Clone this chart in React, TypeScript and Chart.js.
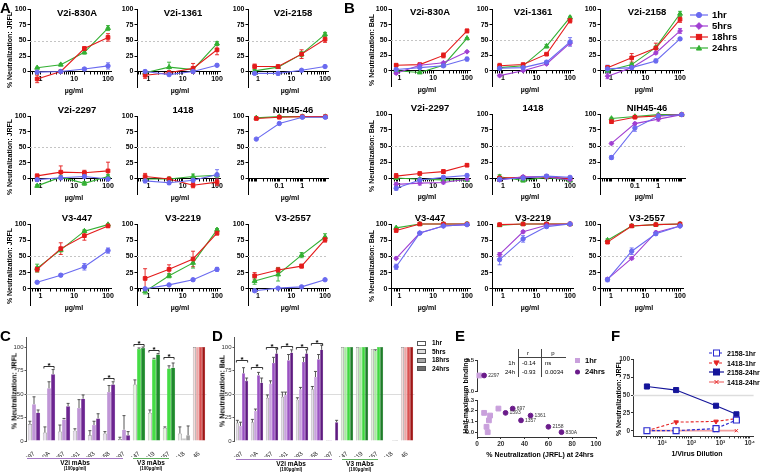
import React, { useEffect, useRef } from 'react';
import { Chart, registerables } from 'chart.js';

const FONT = "'Liberation Sans', Arial, Helvetica, sans-serif";

// ---------------- data ----------------
const DOSE = [0.8, 4, 20, 100];
const A_NIH_DOSE = [0.01, 0.1, 1, 10];
const B_NIH_DOSE = [0.01, 0.1, 1, 10];

// Panel A (JRFL): 1hr, 18hrs, 24hrs
const A_830A = { h1: [-1, 0, 4, 9], h18: [-12, 0, 37, 55], h24: [6, 11, 31, 70] };
const A_830A_E = { h1: [1, 1, 2, 5], h18: [6, 1, 3, 6], h24: [1, 2, 3, 4] };
const A_1361 = { h1: [0, -5, 0, 10], h18: [-6, -2, 5, 35], h24: [-2, 7, 3, 45] };
const A_1361_E = { h1: [2, 2, 2, 2], h18: [5, 3, 8, 8], h24: [3, 8, 2, 3] };
const A_2158 = { h1: [-3, -3, 2, 8], h18: [8, 8, 28, 52], h24: [1, 7, 28, 60] };
const A_2158_E = { h1: [2, 3, 1, 1], h18: [4, 2, 7, 5], h24: [2, 2, 4, 3] };
const A_2297 = { h1: [-2, 1, 3, -1], h18: [4, 10, 9, 12], h24: [-12, 2, -8, 3] };
const A_2297_E = { h1: [2, 3, 2, 2], h18: [3, 10, 4, 14], h24: [2, 2, 3, 3] };
const A_1418 = { h1: [-4, -7, -3, 6], h18: [3, -1, -11, -6], h24: [-1, -1, 3, 5] };
const A_1418_E = { h1: [3, 3, 3, 8], h18: [5, 3, 4, 5], h24: [2, 2, 4, 3] };
const A_NIH = { h1: [63, 88, 98, 98], h18: [96, 98, 99, 99], h24: [97, 99, 99, 99] };
const A_447 = { h1: [10, 21, 34, 59], h18: [30, 62, 82, 97], h24: [32, 60, 89, 99] };
const A_447_E = { h1: [1, 2, 5, 4], h18: [4, 9, 7, 2], h24: [6, 3, 2, 1] };
const A_2219 = { h1: [0, 6, 14, 30], h18: [16, 30, 46, 86], h24: [-4, 20, 40, 91] };
const A_2219_E = { h1: [2, 1, 2, 3], h18: [15, 7, 12, 3], h24: [4, 3, 8, 2] };
const A_2557 = { h1: [-3, 1, 3, 14], h18: [20, 29, 35, 76], h24: [12, 22, 52, 80] };
const A_2557_E = { h1: [2, 1, 1, 1], h18: [5, 4, 3, 4], h24: [5, 10, 4, 5] };

// Panel B (BaL): 1hr, 5hrs, 18hrs, 24hrs
const B_830A = { h1: [2, 5, 8, 19], h5: [-4, 9, 13, 31], h18: [9, 10, 25, 65], h24: [0, -3, 9, 53] };
const B_830A_E = { h1: [2, 1, 2, 3], h5: [2, 1, 1, 1], h18: [1, 1, 4, 3], h24: [1, 1, 1, 1] };
const B_1361 = { h1: [4, 5, 14, 47], h5: [-8, 0, 11, 45], h18: [8, 10, 27, 82], h24: [5, 8, 40, 87] };
const B_1361_E = { h1: [2, 1, 2, 7], h5: [2, 1, 1, 3], h18: [4, 1, 1, 4], h24: [2, 1, 3, 2] };
const B_2158 = { h1: [3, 5, 16, 52], h5: [-9, 5, 29, 65], h18: [5, 21, 37, 84], h24: [0, 10, 38, 93] };
const B_2158_E = { h1: [6, 2, 3, 2], h5: [4, 2, 2, 4], h18: [3, 7, 8, 5], h24: [1, 2, 2, 4] };
const B_2297 = { h1: [-16, -3, 1, 4], h5: [-10, -8, -7, -2], h18: [3, 7, 10, 20], h24: [0, -2, -3, -3] };
const B_2297_E = { h1: [3, 2, 2, 2], h5: [3, 3, 2, 2], h18: [4, 2, 3, 2], h24: [2, 2, 2, 2] };
const B_1418 = { h1: [-2, 0, 3, 1], h5: [-3, 2, 2, -3], h18: [0, 1, 2, -1], h24: [2, -4, 1, -4] };
const B_1418_E = { h1: [2, 2, 2, 2], h5: [2, 2, 2, 2], h18: [2, 2, 2, 2], h24: [3, 2, 2, 2] };
const B_NIH = { h1: [32, 78, 97, 99], h5: [54, 85, 92, 99], h18: [88, 95, 97, 99], h24: [93, 96, 99, 99] };
const B_NIH_E = { h1: [3, 5, 2, 1], h5: [2, 2, 3, 1], h18: [2, 1, 1, 1], h24: [1, 1, 1, 1] };
const B_447 = { h1: [34, 86, 97, 99], h5: [47, 86, 97, 99], h18: [90, 100, 100, 100], h24: [94, 100, 100, 100] };
const B_447_E = { h1: [4, 2, 1, 1], h5: [2, 1, 1, 1], h18: [2, 1, 1, 1], h24: [1, 1, 1, 1] };
const B_2219 = { h1: [45, 77, 96, 100], h5: [53, 88, 98, 100], h18: [99, 100, 100, 100], h24: [98, 100, 100, 100] };
const B_2219_E = { h1: [8, 5, 2, 1], h5: [3, 2, 1, 1], h18: [1, 1, 1, 1], h24: [1, 1, 1, 1] };
const B_2557 = { h1: [14, 58, 85, 97], h5: [15, 47, 87, 97], h18: [72, 97, 99, 100], h24: [75, 97, 99, 100] };
const B_2557_E = { h1: [3, 5, 2, 1], h5: [2, 2, 2, 1], h18: [2, 1, 1, 1], h24: [2, 1, 1, 1] };

// Panel C (JRFL, bars)
const C_LABELS: any[] = ['697', '830A', '1357', '1361', '1393', '2158', '2297', '447', '2219', '2557', ['1418', '(100µg/ml)'], ['NIH45-46', '(5µg/ml)']];
const C_GROUPS = ['v2', 'v2', 'v2', 'v2', 'v2', 'v2', 'v2', 'v3', 'v3', 'v3', 'x', 'nih'];
const C_H1 = [18, 9, 10, 11, 6, 8, 2, 60, 30, 14, 8, 100];
const C_H5 = [null, null, null, null, null, null, null, null, null, null, null, 100];
const C_H18 = [39, 56, 23, 35, 17, 52, 12, 98, 87, 77, 3, 100];
const C_H24 = [30, 71, 37, 45, 24, 60, 6, 99, 92, 78, 6, 100];
const C_H1_E = [3, 6, 7, 2, 5, 2, 2, 5, 3, 1, 7, 0];
const C_H18_E = [8, 7, 1, 9, 4, 7, 15, 1, 1, 3, 0, 0];
const C_H24_E = [3, 5, 3, 4, 5, 3, 4, 1, 1, 5, 10, 0];
const C_SIG = [[1, 0, 3, 80], [5, 0, 3, 67], [7, 0, 3, 103], [8, 0, 3, 97], [9, 0, 3, 89]];

// Panel D (BaL, bars)
const D_H1 = [19, 20, 46, 47, 44, 55, 1, 100, 100, 98, 0, 100];
const D_H5 = [16, 32, 61, 49, 55, 68, 1, 100, 100, 96, 0, 100];
const D_H18 = [72, 70, 83, 86, 84, 87, 0, 100, 100, 100, 1, 100];
const D_H24 = [64, 62, 93, 94, 93, 97, 20, 100, 100, 100, 1, 100];
const D_H1_E = [3, 3, 3, 5, 2, 3, 0, 0, 0, 0, 0, 0];
const D_H5_E = [4, 2, 3, 3, 2, 6, 0, 0, 0, 1, 0, 0];
const D_H18_E = [6, 3, 6, 6, 5, 5, 0, 0, 0, 0, 0, 0];
const D_H24_E = [3, 5, 5, 3, 4, 5, 2, 0, 0, 0, 0, 0];
const D_SIG = [[0, 0, 3, 86], [1, 0, 3, 79], [2, 0, 3, 100], [3, 0, 3, 101], [4, 0, 3, 100], [5, 0, 3, 104]];

// Panel E (scatter)
const E_MABS = ['697', '830A', '1357', '1361', '1393', '2158'];
const E_BIND = [0.22, 0.0, 0.11, 0.155, 0.18, 0.05];
const E_NEUT_1H = [18, 9, 10, 11, 6, 8];
const E_NEUT_24H = [30, 71, 37, 45, 24, 60];
const E_2297 = { bind: 3.25, n1h: 2, n24h: 6 };

// Panel F
const F_DIL = [3, 30, 700, 3500];
const F_2158_1H = [0, 0, 3, 15];
const F_1418_1H = [0, 12, 13, 17];
const F_2158_24H = [62, 57, 35, 23];
const F_1418_24H = [0, 0, 0, 0];

// ---------------- styles ----------------
const BLUE = '#6a6af0';
const PURPLE = '#a13fd2';
const RED = '#e41b1b';
const GREEN = '#33b033';
const SERIES_COLORS = [BLUE, PURPLE, RED, GREEN];
const SERIES_STYLES = ['circle', 'rectRot', 'rect', 'triangle'];
const SERIES_RADIUS = [2.2, 2.4, 2.6, 2.8];
const SERIES_NAMES = ['1hr', '5hrs', '18hrs', '24hrs'];
const KEYS = ['h1', 'h5', 'h18', 'h24'];

// ---------------- plugins ----------------
const refLinePlugin = {
  id: 'refLine',
  beforeDatasetsDraw(chart: any, _a: any, opts: any) {
    if (!opts || opts.y === undefined || opts.y === null) return;
    const { ctx, chartArea } = chart;
    const y = Math.round(chart.scales.y.getPixelForValue(opts.y)) + 0.5;
    ctx.save();
    ctx.strokeStyle = opts.color || '#c8c8c8';
    ctx.lineWidth = opts.width || 1;
    ctx.setLineDash(opts.dash || []);
    ctx.beginPath();
    ctx.moveTo(chartArea.left, y);
    ctx.lineTo(chartArea.right, y);
    ctx.stroke();
    ctx.restore();
  },
};

function drawErr(chart: any, upOnly: boolean) {
  const ctx = chart.ctx;
  const ys = chart.scales.y;
  chart.data.datasets.forEach((ds: any, i: number) => {
    if (!ds.err) return;
    const meta = chart.getDatasetMeta(i);
    meta.data.forEach((el: any, j: number) => {
      const e = ds.err[j];
      const raw = ds.data[j];
      const v = raw == null ? null : typeof raw === 'object' ? raw.y : raw;
      if (!e || v == null || !isFinite(el.x)) return;
      const yt = ys.getPixelForValue(v + e);
      const yb = upOnly ? ys.getPixelForValue(v) : ys.getPixelForValue(v - e);
      const cap = ds.errCap ?? 2;
      ctx.save();
      ctx.strokeStyle = ds.errColor || ds.borderColor;
      ctx.lineWidth = 0.9;
      ctx.beginPath();
      ctx.moveTo(el.x, yt);
      ctx.lineTo(el.x, yb);
      ctx.moveTo(el.x - cap, yt);
      ctx.lineTo(el.x + cap, yt);
      if (!upOnly) {
        ctx.moveTo(el.x - cap, yb);
        ctx.lineTo(el.x + cap, yb);
      }
      ctx.stroke();
      ctx.restore();
    });
  });
}

const errPlugin = {
  id: 'errBars',
  beforeDatasetsDraw(chart: any, _a: any, opts: any) {
    if (opts && opts.mode === 'line') drawErr(chart, false);
  },
  afterDatasetsDraw(chart: any, _a: any, opts: any) {
    if (opts && opts.mode === 'bar') drawErr(chart, true);
  },
};

const sigPlugin = {
  id: 'sig',
  afterDatasetsDraw(chart: any, _a: any, opts: any) {
    if (!opts || !opts.items) return;
    const ctx = chart.ctx;
    const ys = chart.scales.y;
    opts.items.forEach((it: number[]) => {
      const [cat, a, b, val] = it;
      const ea = chart.getDatasetMeta(a).data[cat];
      const eb = chart.getDatasetMeta(b).data[cat];
      if (!ea || !eb) return;
      const y = Math.round(ys.getPixelForValue(val)) + 0.5;
      const x1 = ea.x - 1;
      const x2 = eb.x + 1;
      ctx.save();
      ctx.strokeStyle = '#000';
      ctx.lineWidth = 0.8;
      ctx.beginPath();
      ctx.moveTo(x1, y + 2);
      ctx.lineTo(x1, y);
      ctx.lineTo(x2, y);
      ctx.lineTo(x2, y + 2);
      ctx.stroke();
      ctx.fillStyle = '#000';
      ctx.font = 'bold 8px ' + FONT;
      ctx.textAlign = 'center';
      ctx.textBaseline = 'alphabetic';
      ctx.fillText('*', (x1 + x2) / 2, y + 1);
      ctx.restore();
    });
  },
};

const ptLabelPlugin = {
  id: 'ptLabels',
  afterDatasetsDraw(chart: any) {
    const ctx = chart.ctx;
    chart.data.datasets.forEach((ds: any, i: number) => {
      if (!ds.ptLabels) return;
      const meta = chart.getDatasetMeta(i);
      ctx.save();
      ctx.fillStyle = '#333';
      ctx.font = '5px ' + FONT;
      ctx.textAlign = 'left';
      ctx.textBaseline = 'middle';
      meta.data.forEach((el: any, j: number) => {
        ctx.fillText(ds.ptLabels[j], el.x + 4, el.y);
      });
      ctx.restore();
    });
  },
};

Chart.register(...registerables, refLinePlugin, errPlugin, sigPlugin, ptLabelPlugin);
Chart.defaults.font.family = FONT;
Chart.defaults.color = '#000';

// ---------------- helpers ----------------
type Spec = { left: number; top: number; width: number; height: number; config: any };

function fixY(w: number) {
  return (s: any) => {
    s.width = w;
    s.paddingTop = 0;
    s.paddingBottom = 0;
    s.paddingLeft = 0;
    s.paddingRight = 0;
  };
}
function fixX(h: number) {
  return (s: any) => {
    s.height = h;
    s.paddingLeft = 0;
    s.paddingRight = 0;
    s.paddingTop = 0;
    s.paddingBottom = 0;
  };
}
function valTicks(vals: number[]) {
  return (s: any) => {
    s.ticks = vals.map((v) => ({ value: v }));
  };
}
function logTickList(min: number, max: number) {
  const out: { value: number }[] = [];
  for (let p = -4; p <= 5; p++) {
    for (let m = 1; m <= 9; m++) {
      const v = parseFloat((m * Math.pow(10, p)).toPrecision(6));
      if (v > min * 1.0001 && v < max * 0.9999) out.push({ value: v });
    }
  }
  return out;
}
function isIn(v: number, list: number[]) {
  return list.some((l) => Math.abs(v - l) / l < 1e-6);
}
function fmtNum(v: number) {
  return v >= 1 ? String(Math.round(v)) : String(parseFloat(v.toPrecision(3)));
}
const baseOpts = { responsive: false, animation: false, events: [] as any[] };

// layout of the small grids
const A_COLS: any[] = [
  { ax: 30, p1: 40.5, dec: 34, tc: 77 },
  { ax: 137, p1: 148.5, dec: 34.5, tc: 183 },
  { ax: 248, p1: 258, dec: 34, tc: 293 },
];
const B_COLS: any[] = [
  { ax: 391, p1: 399.5, dec: 34, tc: 430 },
  { ax: 492, p1: 503, dec: 34, tc: 533 },
  { ax: 600, p1: 611, dec: 35, tc: 647 },
];
const A_NIH_AXIS = { ax: 248, p1: 303, dec: 23.3, right: 329, labels: [0.1, 1], tc: 293 };
const B_NIH_AXIS = { ax: 600, p1: 659, dec: 23.7, right: 686, labels: [0.1, 1], tc: 647 };
const A_ROWS = [
  { y100: 9.5, y0: 72.7, ty: 13 },
  { y100: 116, y0: 180, ty: 110 },
  { y100: 224, y0: 290, ty: 218 },
];
const B_ROWS = [
  { y100: 9.5, y0: 72, ty: 12 },
  { y100: 114, y0: 179, ty: 108 },
  { y100: 224, y0: 290, ty: 218 },
];

const A_PANELS: any[] = [
  { title: 'V2i-830A', xs: DOSE, d: A_830A, e: A_830A_E },
  { title: 'V2i-1361', xs: DOSE, d: A_1361, e: A_1361_E },
  { title: 'V2i-2158', xs: DOSE, d: A_2158, e: A_2158_E },
  { title: 'V2i-2297', xs: DOSE, d: A_2297, e: A_2297_E },
  { title: '1418', xs: DOSE, d: A_1418, e: A_1418_E },
  { title: 'NIH45-46', xs: A_NIH_DOSE, d: A_NIH, e: null, axis: A_NIH_AXIS },
  { title: 'V3-447', xs: DOSE, d: A_447, e: A_447_E },
  { title: 'V3-2219', xs: DOSE, d: A_2219, e: A_2219_E },
  { title: 'V3-2557', xs: DOSE, d: A_2557, e: A_2557_E },
];
const B_PANELS: any[] = [
  { title: 'V2i-830A', xs: DOSE, d: B_830A, e: B_830A_E },
  { title: 'V2i-1361', xs: DOSE, d: B_1361, e: B_1361_E },
  { title: 'V2i-2158', xs: DOSE, d: B_2158, e: B_2158_E },
  { title: 'V2i-2297', xs: DOSE, d: B_2297, e: B_2297_E },
  { title: '1418', xs: DOSE, d: B_1418, e: B_1418_E },
  { title: 'NIH45-46', xs: B_NIH_DOSE, d: B_NIH, e: B_NIH_E, axis: B_NIH_AXIS },
  { title: 'V3-447', xs: DOSE, d: B_447, e: B_447_E },
  { title: 'V3-2219', xs: DOSE, d: B_2219, e: B_2219_E },
  { title: 'V3-2557', xs: DOSE, d: B_2557, e: B_2557_E },
];

const TICK7 = { size: 7, weight: 'bold' as const, family: FONT };

function lineSpec(col: any, row: any, xs: number[], d: any, e: any): Spec {
  const YW = 24, PT = 6, PB = 3, PR = 4;
  const ax = col.ax;
  const right = col.right ?? col.p1 + 2 * col.dec + 3;
  const xmin = Math.pow(10, (ax - col.p1) / col.dec);
  const xmax = Math.pow(10, (right - col.p1) / col.dec);
  const plotW = right - ax;
  const plotH = (row.y0 - row.y100) * 1.25;
  const left = Math.floor(ax - YW);
  const yW = ax - left;
  const top = Math.floor(row.y100 - PT);
  const padT = row.y100 - top;
  const width = Math.ceil(yW + plotW + PR);
  const padR = width - yW - plotW;
  const height = Math.ceil(padT + plotH + PB);
  const padB = height - padT - plotH;
  const labels = col.labels || [1, 10, 100];
  const datasets: any[] = [];
  KEYS.forEach((k, si) => {
    const vals = d[k];
    if (!vals) return;
    datasets.push({
      label: SERIES_NAMES[si],
      data: xs.map((x, i) => ({ x, y: vals[i] })),
      err: e ? e[k] : undefined,
      borderColor: SERIES_COLORS[si],
      backgroundColor: SERIES_COLORS[si],
      borderWidth: 1.1,
      pointStyle: SERIES_STYLES[si],
      pointRadius: SERIES_RADIUS[si],
      pointBorderWidth: 1,
      clip: false,
    });
  });
  return {
    left, top, width, height,
    config: {
      type: 'line',
      data: { datasets },
      options: {
        ...baseOpts,
        layout: { padding: { top: padT, right: padR, bottom: padB, left: 0 } },
        plugins: {
          legend: { display: false }, tooltip: { enabled: false },
          refLine: { y: 50, color: '#c4c4c4', dash: [2, 2] },
          errBars: { mode: 'line' },
        },
        scales: {
          x: {
            type: 'logarithmic', min: xmin, max: xmax, position: { y: 0 },
            afterBuildTicks: (s: any) => { s.ticks = logTickList(xmin, xmax); },
            ticks: {
              font: TICK7, color: '#000', padding: 1, autoSkip: false, maxRotation: 0,
              callback: (v: any) => (isIn(Number(v), labels) ? fmtNum(Number(v)) : ''),
            },
            grid: { drawOnChartArea: false, drawTicks: true, tickLength: 2.5, color: '#000' },
            border: { color: '#000', width: 1 },
          },
          y: {
            min: -25, max: 100,
            afterBuildTicks: valTicks([0, 25, 50, 75, 100]),
            afterFit: fixY(yW),
            ticks: { font: TICK7, color: '#000', padding: 1, callback: (v: any) => String(v) },
            grid: { drawOnChartArea: false, tickLength: 2.5, color: '#000' },
            border: { color: '#000', width: 1 },
          },
        },
      },
    },
  };
}

const BAR_COL: any = {
  C: {
    v2: ['#e8e0ee', '#c9a3dd', '#bf95d6', '#6c2590'],
    v3: ['#e4f4df', '#a9e7a2', '#45dc45', '#1f8a2c'],
    x: ['#ececec', '#d2d2d2', '#c8c8c8', '#a0a0a0'],
    nih: ['#f6d9d9', '#eaa8a8', '#d95050', '#a01515'],
  },
  D: {
    v2: ['#e6deec', '#c9a3dd', '#9a52c2', '#5e1a80'],
    v3: ['#dff1da', '#a9e7a2', '#3fd83f', '#1d7d28'],
    x: ['#ececec', '#d2d2d2', '#b0b0b0', '#909090'],
    nih: ['#f6d9d9', '#eaa8a8', '#d95050', '#a01515'],
  },
};

function barSpec(o: any): Spec {
  const PT = 5, XH = 16, PR = 3, EXTRA = 18;
  const plotH = o.yMax * o.ppu;
  const yTopPx = o.y0 - plotH;
  const top = Math.floor(yTopPx - PT);
  const padT = yTopPx - top;
  const yW = o.axisX - o.left;
  const plotW = o.plotRight - o.axisX;
  const width = Math.ceil(yW + plotW + PR);
  const padR = width - yW - plotW;
  const height = Math.ceil(padT + plotH + XH + EXTRA);
  const padB = height - padT - plotH - XH;
  const pal = BAR_COL[o.pal];
  const datasets = o.sets.map((s: any) => ({
    label: SERIES_NAMES[s.k],
    data: s.data,
    err: s.err,
    errColor: '#444',
    errCap: 1.5,
    backgroundColor: C_GROUPS.map((g) => pal[g][s.k]),
    borderColor: C_GROUPS.map((g) => (s.k === 0 ? '#8d8d8d' : pal[g][s.k])),
    borderWidth: s.k === 0 ? 0.7 : 0.3,
    categoryPercentage: 0.82,
    barPercentage: 1,
    skipNull: true,
  }));
  return {
    left: o.left, top, width, height,
    config: {
      type: 'bar',
      data: { labels: C_LABELS, datasets },
      options: {
        ...baseOpts,
        layout: { padding: { top: padT, right: padR, bottom: padB, left: 0 } },
        plugins: {
          legend: { display: false }, tooltip: { enabled: false },
          refLine: { y: 50, color: '#dcdcdc' },
          errBars: { mode: 'bar' },
          sig: { items: o.sig },
        },
        scales: {
          x: {
            afterFit: fixX(XH),
            grid: { display: false },
            border: { display: false },
            ticks: { font: { size: 6.3, family: FONT }, color: '#222', padding: 1, autoSkip: false, maxRotation: 45, minRotation: 45 },
          },
          y: {
            min: 0, max: o.yMax,
            afterBuildTicks: valTicks([0, 25, 50, 75, 100]),
            afterFit: fixY(yW),
            ticks: { font: { size: 6, family: FONT }, color: '#333', padding: 1 },
            grid: { drawOnChartArea: false, tickLength: 2, color: '#555' },
            border: { color: '#555', width: 1 },
          },
        },
      },
    },
  };
}

function scatterSpec(o: any): Spec {
  const PT = 4, PR = 6;
  const XH = o.showX ? 12 : 0;
  const plotH = o.bottomPx - o.topPx;
  const top = Math.floor(o.topPx - PT);
  const padT = o.topPx - top;
  const yW = o.axisX - o.left;
  const plotW = o.plotRight - o.axisX;
  const width = Math.ceil(yW + plotW + PR);
  const padR = width - yW - plotW;
  const height = Math.ceil(padT + plotH + XH + (o.showX ? 0 : 1));
  const padB = height - padT - plotH - XH;
  return {
    left: o.left, top, width, height,
    config: {
      type: 'scatter',
      data: { datasets: o.datasets },
      options: {
        ...baseOpts,
        layout: { padding: { top: padT, right: padR, bottom: padB, left: 0 } },
        plugins: { legend: { display: false }, tooltip: { enabled: false } },
        scales: {
          x: {
            type: 'linear', min: 0, max: 100, display: o.showX,
            afterBuildTicks: valTicks([0, 20, 40, 60, 80, 100]),
            afterFit: fixX(XH),
            ticks: { font: { size: 6.5, weight: 'bold', family: FONT }, color: '#333', padding: 1 },
            grid: { drawOnChartArea: false, tickLength: 2, color: '#333' },
            border: { color: '#333', width: 1 },
          },
          y: {
            min: o.yMin, max: o.yMax,
            afterBuildTicks: valTicks(o.yTicks),
            afterFit: fixY(yW),
            ticks: { font: { size: 6, weight: 'bold', family: FONT }, color: '#333', padding: 1, callback: (v: any) => Number(v).toFixed(1) },
            grid: { drawOnChartArea: false, tickLength: 2, color: '#333' },
            border: { color: '#333', width: 1 },
          },
        },
      },
    },
  };
}

const SUP: any = { 1: '¹', 2: '²', 3: '³', 4: '⁴' };

function fSpec(): Spec {
  const ax = 633, p1 = 633, dec = 30, right = 757;
  const y100 = 359.3, y0 = 430.7;
  const yMin = -8;
  const ppu = (y0 - y100) / 100;
  const XH = 12, PT = 5, PR = 2;
  const xmin = 1;
  const xmax = Math.pow(10, (right - p1) / dec);
  const plotH = (100 - yMin) * ppu;
  const left = 600;
  const yW = ax - left;
  const top = Math.floor(y100 - PT);
  const padT = y100 - top;
  const plotW = right - ax;
  const width = Math.ceil(yW + plotW + PR);
  const padR = width - yW - plotW;
  const height = Math.ceil(padT + plotH + XH);
  const padB = height - padT - plotH - XH;
  const pts = (ys: number[]) => F_DIL.map((x, i) => ({ x, y: ys[i] }));
  const datasets = [
    { data: pts(F_2158_1H), borderColor: '#2b2bd0', backgroundColor: '#ffffff', borderDash: [3, 2], borderWidth: 1.2, pointStyle: 'rect', pointRadius: 4.2, pointBorderWidth: 1.2 },
    { data: pts(F_1418_1H), borderColor: '#e52525', backgroundColor: '#e52525', borderDash: [3, 2], borderWidth: 1.1, pointStyle: 'triangle', pointRotation: 180, pointRadius: 2.6, pointBorderWidth: 1 },
    { data: pts(F_2158_24H), borderColor: '#15159a', backgroundColor: '#15159a', borderWidth: 1.2, pointStyle: 'rect', pointRadius: 3.6, pointBorderWidth: 1 },
    { data: pts(F_1418_24H), borderColor: '#f4a0a0', backgroundColor: '#e52525', pointBorderColor: '#e52525', borderWidth: 1.8, pointStyle: 'crossRot', pointRadius: 2.2, pointBorderWidth: 1 },
  ].map((d) => ({ ...d, clip: false }));
  return {
    left, top, width, height,
    config: {
      type: 'line',
      data: { datasets },
      options: {
        ...baseOpts,
        layout: { padding: { top: padT, right: padR, bottom: padB, left: 0 } },
        plugins: { legend: { display: false }, tooltip: { enabled: false }, refLine: { y: 50, color: '#dddddd', width: 1.5 } },
        scales: {
          x: {
            type: 'logarithmic', min: xmin, max: xmax,
            afterBuildTicks: (s: any) => { s.ticks = logTickList(xmin, xmax); },
            afterFit: fixX(XH),
            ticks: {
              font: { size: 6.5, weight: 'bold', family: FONT }, color: '#333', padding: 1, autoSkip: false, maxRotation: 0,
              callback: (v: any) => {
                const l = Math.log10(Number(v));
                return Math.abs(l - Math.round(l)) < 1e-6 ? '10' + SUP[Math.round(l)] : '';
              },
            },
            grid: { drawOnChartArea: false, tickLength: 2, color: '#333' },
            border: { color: '#333', width: 1 },
          },
          y: {
            min: yMin, max: 100,
            afterBuildTicks: valTicks([0, 25, 50, 75, 100]),
            afterFit: fixY(yW),
            ticks: { font: { size: 6.5, weight: 'bold', family: FONT }, color: '#333', padding: 1 },
            grid: { drawOnChartArea: false, tickLength: 2, color: '#333' },
            border: { color: '#333', width: 1 },
          },
        },
      },
    },
  };
}

// ---------------- build specs ----------------
const SPECS: Spec[] = [];
A_PANELS.forEach((p, i) => {
  const col = p.axis || A_COLS[i % 3];
  SPECS.push(lineSpec(col, A_ROWS[Math.floor(i / 3)], p.xs, p.d, p.e));
});
B_PANELS.forEach((p, i) => {
  const col = p.axis || B_COLS[i % 3];
  SPECS.push(lineSpec(col, B_ROWS[Math.floor(i / 3)], p.xs, p.d, p.e));
});
SPECS.push(barSpec({
  pal: 'C', left: 0, axisX: 26.5, plotRight: 206.5, y0: 441, ppu: 0.94, yMax: 110, sig: C_SIG,
  sets: [
    { k: 0, data: C_H1, err: C_H1_E },
    { k: 1, data: C_H5, err: null },
    { k: 2, data: C_H18, err: C_H18_E },
    { k: 3, data: C_H24, err: C_H24_E },
  ],
}));
SPECS.push(barSpec({
  pal: 'D', left: 212, axisX: 234.5, plotRight: 414.5, y0: 441, ppu: 0.94, yMax: 110, sig: D_SIG,
  sets: [
    { k: 0, data: D_H1, err: D_H1_E },
    { k: 1, data: D_H5, err: D_H5_E },
    { k: 2, data: D_H18, err: D_H18_E },
    { k: 3, data: D_H24, err: D_H24_E },
  ],
}));
const E_SQ = '#c9a0dc';
const E_DOT = '#6a1b8a';
SPECS.push(scatterSpec({
  left: 457, axisX: 477, plotRight: 596, topPx: 399, bottomPx: 437, yMin: -0.045, yMax: 0.3, yTicks: [0, 0.1, 0.2, 0.3], showX: true,
  datasets: [
    { data: E_NEUT_24H.map((x, i) => ({ x, y: E_BIND[i] })), ptLabels: E_MABS, backgroundColor: E_DOT, borderColor: E_DOT, pointStyle: 'circle', pointRadius: 2.4, clip: false },
    { data: E_NEUT_1H.map((x, i) => ({ x, y: E_BIND[i] })), backgroundColor: E_SQ, borderColor: E_SQ, pointStyle: 'rect', pointRadius: 3.4, clip: false },
  ],
}));
SPECS.push(scatterSpec({
  left: 457, axisX: 477, plotRight: 596, topPx: 359, bottomPx: 395, yMin: 3.0, yMax: 3.5, yTicks: [3.0, 3.5], showX: false,
  datasets: [
    { data: [{ x: E_2297.n24h, y: E_2297.bind }], ptLabels: ['2297'], backgroundColor: E_DOT, borderColor: E_DOT, pointStyle: 'circle', pointRadius: 2.4, clip: false },
    { data: [{ x: E_2297.n1h, y: E_2297.bind }], backgroundColor: E_SQ, borderColor: E_SQ, pointStyle: 'rect', pointRadius: 3.4, clip: false },
  ],
}));
SPECS.push(fSpec());

// ---------------- HTML text helpers ----------------
function Txt(p: any) {
  const { x, y, s, size = 7, bold = true, align = 'center', rot = 0, color = '#000' } = p;
  const tx = align === 'center' ? '-50%' : align === 'right' ? '-100%' : '0%';
  return (
    <div
      style={{
        position: 'absolute', left: x, top: y, fontSize: size, fontWeight: bold ? 700 : 400, color,
        whiteSpace: 'nowrap', lineHeight: 1, fontFamily: FONT,
        transform: `translate(${tx}, -50%) rotate(${rot}deg)`,
        transformOrigin: align === 'center' ? '50% 50%' : '0% 50%',
      }}
    >
      {s}
    </div>
  );
}

function Marker(p: any) {
  const { shape, cx, cy, r, color, fill } = p;
  const f = fill ?? color;
  if (shape === 'circle') return <circle cx={cx} cy={cy} r={r} fill={f} stroke={color} />;
  if (shape === 'rect') return <rect x={cx - r} y={cy - r} width={2 * r} height={2 * r} fill={f} stroke={color} />;
  if (shape === 'rectRot')
    return <polygon points={`${cx},${cy - r * 1.3} ${cx + r * 1.3},${cy} ${cx},${cy + r * 1.3} ${cx - r * 1.3},${cy}`} fill={f} stroke={color} />;
  if (shape === 'triangle')
    return <polygon points={`${cx},${cy - r} ${cx + r},${cy + r * 0.8} ${cx - r},${cy + r * 0.8}`} fill={f} stroke={color} />;
  if (shape === 'triangleDown')
    return <polygon points={`${cx},${cy + r} ${cx + r},${cy - r * 0.8} ${cx - r},${cy - r * 0.8}`} fill={f} stroke={color} />;
  if (shape === 'cross')
    return (
      <g stroke={color} strokeWidth={1}>
        <line x1={cx - r} y1={cy - r} x2={cx + r} y2={cy + r} />
        <line x1={cx - r} y1={cy + r} x2={cx + r} y2={cy - r} />
      </g>
    );
  return null;
}

function LegendRow(p: any) {
  const { x, y, w, color, dash, shape, r, fill, label, size, tx, lineW = 1.2 } = p;
  return (
    <>
      <svg style={{ position: 'absolute', left: x, top: y - 6, overflow: 'visible' }} width={w} height={12}>
        <line x1={0} y1={6} x2={w} y2={6} stroke={p.lineColor || color} strokeWidth={lineW} strokeDasharray={dash} />
        <Marker shape={shape} cx={w / 2} cy={6} r={r} color={color} fill={fill} />
      </svg>
      <Txt x={tx} y={y} s={label} size={size} align="left" />
    </>
  );
}

const LEG_Y = [15, 26, 37, 48];
const CD_LEG_Y = [343, 351.5, 360, 368.5];
const CD_LEG_FILL = ['#ffffff', '#dedede', '#a8a8a8', '#707070'];

export default function App() {
  const refs = useRef<(HTMLCanvasElement | null)[]>([]);
  useEffect(() => {
    const charts = SPECS.map((s, i) => new Chart(refs.current[i] as HTMLCanvasElement, s.config));
    return () => charts.forEach((c) => c.destroy());
  }, []);

  const texts: any[] = [];
  [['A', 0, 7], ['B', 344, 7], ['C', 0, 335], ['D', 212, 335], ['E', 455, 335], ['F', 611, 335]].forEach(([s, x, y]: any) =>
    texts.push(<Txt key={'L' + s} x={x} y={y} s={s} size={15} align="left" />)
  );
  A_PANELS.forEach((p, i) => {
    const col = p.axis || A_COLS[i % 3];
    const row = A_ROWS[Math.floor(i / 3)];
    texts.push(<Txt key={'at' + i} x={col.tc} y={row.ty} s={p.title} size={9.5} />);
    texts.push(<Txt key={'au' + i} x={col.tc - 3} y={row.y0 + 17} s="µg/ml" size={7} />);
    if (i % 3 === 0)
      texts.push(<Txt key={'ay' + i} x={9} y={row.y100 + (row.y0 - row.y100) * 0.64} s="% Neutralization: JRFL" size={7} rot={-90} />);
  });
  B_PANELS.forEach((p, i) => {
    const col = p.axis || B_COLS[i % 3];
    const row = B_ROWS[Math.floor(i / 3)];
    texts.push(<Txt key={'bt' + i} x={col.tc} y={row.ty} s={p.title} size={9.5} />);
    texts.push(<Txt key={'bu' + i} x={col.tc - 3} y={row.y0 + 17} s="µg/ml" size={7} />);
    if (i % 3 === 0)
      texts.push(<Txt key={'by' + i} x={371} y={row.y100 + (row.y0 - row.y100) * 0.64} s="% Neutralization: BaL" size={7} rot={-90} />);
  });

  return (
    <div style={{ position: 'fixed', left: 0, top: 0, width: 760, height: 473, background: '#fff', overflow: 'hidden', fontFamily: FONT }}>
      {SPECS.map((s, i) => (
        <canvas
          key={i}
          ref={(el) => { refs.current[i] = el; }}
          width={s.width}
          height={s.height}
          style={{ position: 'absolute', left: s.left, top: s.top, width: s.width, height: s.height }}
        />
      ))}
      {texts}

      {SERIES_NAMES.map((n, i) => (
        <LegendRow key={'lg' + i} x={690} y={LEG_Y[i]} w={18} color={SERIES_COLORS[i]} shape={SERIES_STYLES[i]} r={2.6} label={n} size={9.5} tx={712} />
      ))}

      <Txt x={14} y={391} s="% Neutralization: JRFL" size={7} rot={-90} />
      <Txt x={222} y={391} s="% Neutralization: BaL" size={7} rot={-90} />
      <div style={{ position: 'absolute', left: 27, top: 457.5, width: 96, height: 1.5, background: '#a477c4' }} />
      <Txt x={75} y={463} s="V2i mAbs" size={6.5} />
      <Txt x={75} y={469} s="(100µg/ml)" size={4.5} />
      <div style={{ position: 'absolute', left: 133, top: 457.5, width: 36, height: 1.5, background: '#5fae5f' }} />
      <Txt x={151} y={463} s="V3 mAbs" size={6.5} />
      <Txt x={151} y={469} s="(100µg/ml)" size={4.5} />
      <div style={{ position: 'absolute', left: 236, top: 458.5, width: 96, height: 1.5, background: '#a477c4' }} />
      <Txt x={291} y={464} s="V2i mAbs" size={6.5} />
      <Txt x={291} y={470} s="(100µg/ml)" size={4.5} />
      <div style={{ position: 'absolute', left: 342, top: 458.5, width: 36, height: 1.5, background: '#5fae5f' }} />
      <Txt x={360} y={464} s="V3 mAbs" size={6.5} />
      <Txt x={360} y={470} s="(100µg/ml)" size={4.5} />
      {SERIES_NAMES.map((n, i) => (
        <React.Fragment key={'cd' + i}>
          <div style={{ position: 'absolute', left: 417, top: CD_LEG_Y[i] - 2.5, width: 9, height: 5, background: CD_LEG_FILL[i], border: '0.7px solid #555', boxSizing: 'border-box' }} />
          <Txt x={432} y={CD_LEG_Y[i]} s={n} size={6.5} align="left" />
        </React.Fragment>
      ))}

      <Txt x={465} y={396} s="Half-maximum binding" size={7} rot={-90} />
      <Txt x={540} y={454} s="% Neutralization (JRFL) at 24hrs" size={7} />
      <Txt x={528} y={353} s="r" size={6} bold={false} />
      <Txt x={553} y={353} s="p" size={6} bold={false} />
      <div style={{ position: 'absolute', left: 518, top: 357, width: 48, height: 0.8, background: '#444' }} />
      <div style={{ position: 'absolute', left: 518, top: 349, width: 0.8, height: 28, background: '#444' }} />
      <div style={{ position: 'absolute', left: 541, top: 349, width: 0.8, height: 28, background: '#444' }} />
      <Txt x={515} y={363} s="1h" size={6} bold={false} align="right" />
      <Txt x={522} y={363} s="-0.14" size={6} bold={false} align="left" />
      <Txt x={545} y={363} s="ns" size={6} bold={false} align="left" />
      <Txt x={515} y={372} s="24h" size={6} bold={false} align="right" />
      <Txt x={522} y={372} s="-0.93" size={6} bold={false} align="left" />
      <Txt x={545} y={372} s="0.0034" size={6} bold={false} align="left" />
      <svg style={{ position: 'absolute', left: 572, top: 355, overflow: 'visible' }} width={12} height={22}>
        <rect x={3} y={3} width={5} height={5} fill={E_SQ} />
        <circle cx={5.5} cy={17} r={2.5} fill={E_DOT} />
      </svg>
      <Txt x={585} y={361} s="1hr" size={7.5} align="left" />
      <Txt x={585} y={372} s="24hrs" size={7.5} align="left" />

      <Txt x={618} y={398} s="% Neutralization: JRFL" size={7} rot={-90} />
      <Txt x={697} y={453} s="1/Virus Dilution" size={7} />
      <LegendRow x={709} y={353} w={15} color="#2b2bd0" dash="3 2" shape="rect" r={3} fill="#fff" label="2158-1hr" size={7} tx={727} />
      <LegendRow x={709} y={362.5} w={15} color="#e52525" dash="3 2" shape="triangleDown" r={2.6} label="1418-1hr" size={7} tx={727} />
      <LegendRow x={709} y={372} w={15} color="#15159a" shape="rect" r={3} label="2158-24hrs" size={7} tx={727} />
      <LegendRow x={709} y={381.5} w={15} color="#e52525" lineColor="#f4a0a0" lineW={1.8} shape="cross" r={2} label="1418-24hrs" size={7} tx={727} />
    </div>
  );
}
